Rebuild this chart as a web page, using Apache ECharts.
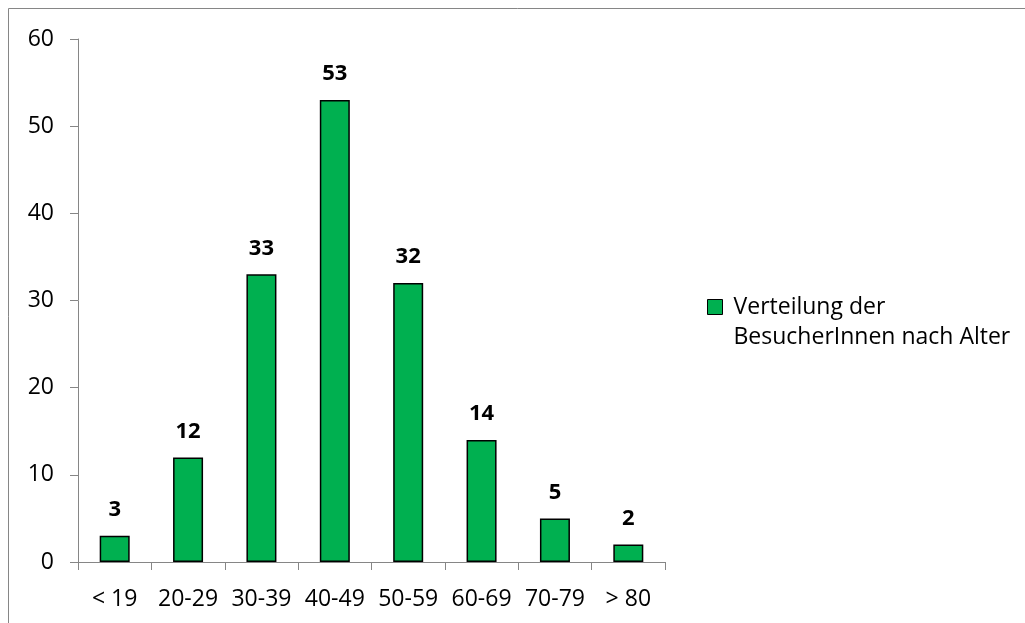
<!DOCTYPE html>
<html>
<head>
<meta charset="utf-8">
<script src="https://cdn.jsdelivr.net/npm/echarts@6/dist/echarts.min.js"></script>
<style>
  html, body { margin: 0; padding: 0; background: #fff; }
  #chart { width: 1025px; height: 623px; }
</style>
</head>
<body>
<div id="chart"></div>
<script>
// Altersgruppen und Anzahl BesucherInnen
var categories = ['< 19', '20-29', '30-39', '40-49', '50-59', '60-69', '70-79', '> 80'];
var visitors = [3, 12, 33, 53, 32, 14, 5, 2];
var seriesName = 'Verteilung der BesucherInnen nach Alter';

var chart = echarts.init(document.getElementById('chart'));
var font = '"Open Sans", sans-serif';

var option = {
    animation: false,
    backgroundColor: '#fff',
    textStyle: { fontFamily: font },
    graphic: [{
        type: 'rect',
        shape: { x: 8.5, y: 8.5, width: 1040, height: 640 },
        style: { fill: 'none', stroke: '#868686', lineWidth: 1 },
        silent: true
    }],
    grid: { left: 78, top: 39, right: 360, bottom: 61 },
    legend: {
        data: [seriesName],
        left: 702,
        top: 257,
        itemWidth: 15,
        itemHeight: 15,
        icon: 'rect',
        itemStyle: { color: '#00B050', borderColor: '#000', borderWidth: 1 },
        // leere erste Zeile, damit das Symbol auf Höhe der ersten Textzeile steht
        formatter: function () {
            return ' \n{t|Verteilung der}\n{t|BesucherInnen nach Alter}';
        },
        textStyle: {
            fontFamily: font,
            fontSize: 23,
            color: '#000',
            lineHeight: 30,
            rich: {
                t: { fontFamily: font, fontSize: 23, color: '#000', lineHeight: 30, padding: [0, 0, 0, 6] }
            }
        }
    },
    xAxis: {
        type: 'category',
        data: categories,
        axisLine: { lineStyle: { color: '#868686', width: 1 } },
        axisTick: { show: true, length: 8, lineStyle: { color: '#868686' } },
        axisLabel: { color: '#000', fontSize: 23, fontFamily: font, margin: 26, interval: 0 }
    },
    yAxis: {
        type: 'value',
        min: 0,
        max: 60,
        interval: 10,
        splitLine: { show: false },
        axisLine: { show: true, lineStyle: { color: '#868686', width: 1 } },
        axisTick: { show: true, length: 8, lineStyle: { color: '#868686' } },
        axisLabel: { color: '#000', fontSize: 23, fontFamily: font, margin: 24 }
    },
    series: [{
        name: seriesName,
        type: 'bar',
        data: visitors,
        barWidth: 30,
        itemStyle: { color: '#00B050', borderColor: '#000', borderWidth: 1.5 },
        label: {
            show: true,
            position: 'top',
            distance: 15,
            fontWeight: 'bold',
            fontSize: 22,
            fontFamily: font,
            color: '#000'
        }
    }]
};

chart.setOption(option);
window.addEventListener('resize', function () {
    chart.resize();
});
</script>
</body>
</html>
